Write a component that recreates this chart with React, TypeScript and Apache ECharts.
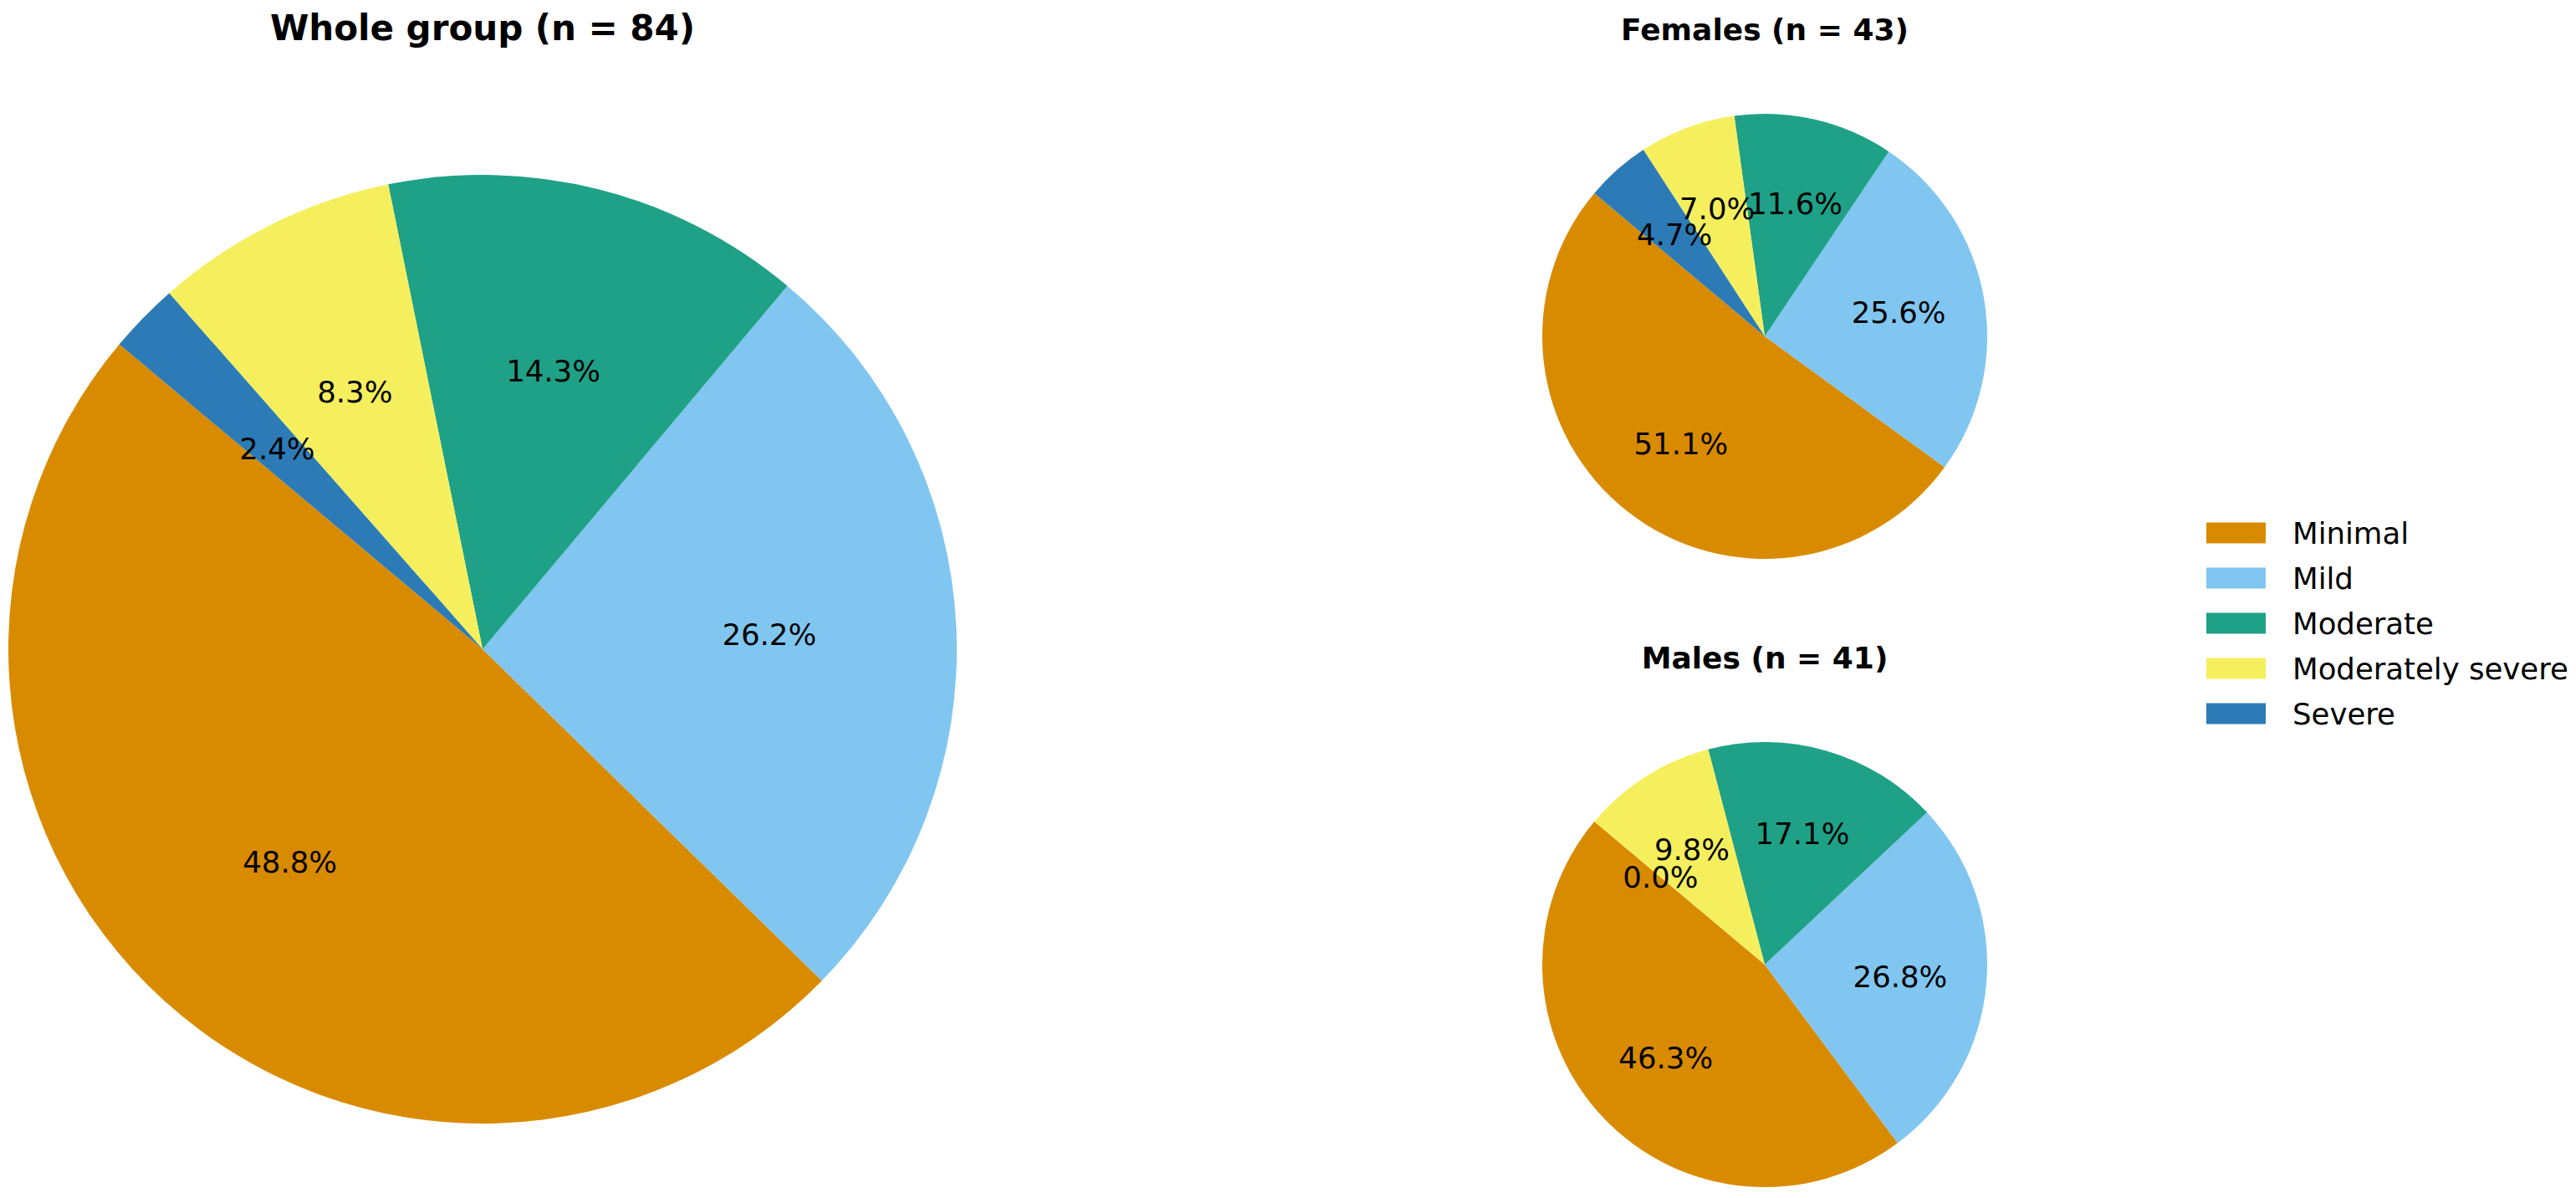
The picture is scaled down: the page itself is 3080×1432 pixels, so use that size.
import React, { useEffect, useRef } from "react";
import * as echarts from "echarts";

// ---- data ----
const categories = ["Minimal", "Mild", "Moderate", "Moderately severe", "Severe"];
const colors = ["#D98B00", "#80C6F1", "#1FA187", "#F5EF5E", "#2C7BB6"];
const wholeValues = [48.8, 26.2, 14.3, 8.3, 2.4];
const femaleValues = [51.1, 25.6, 11.6, 7.0, 4.7];
const maleValues = [46.3, 26.8, 17.1, 9.8, 0.0];
const titles = ["Whole group (n = 84)", "Females (n = 43)", "Males (n = 41)"];

const FONT = "'DejaVu Sans', 'Noto Sans', sans-serif";

export default function App() {
  const ref = useRef<HTMLDivElement>(null);

  useEffect(() => {
    document.body.style.margin = "0";
    const chart = echarts.init(ref.current as HTMLDivElement, null, { renderer: "svg" });

    const pies = [
      { values: wholeValues, cx: 577, cy: 776, r: 567, title: titles[0], ty: 33, ts: 42 },
      { values: femaleValues, cx: 2110, cy: 402, r: 266, title: titles[1], ty: 35, ts: 36 },
      { values: maleValues, cx: 2110, cy: 1153, r: 266, title: titles[2], ty: 786.5, ts: 36 },
    ];

    const series: any[] = [];
    pies.forEach((p) => {
      series.push({
        type: "pie",
        center: [p.cx, p.cy],
        radius: [0, p.r],
        startAngle: 140,
        clockwise: false,
        silent: true,
        avoidLabelOverlap: false,
        emphasis: { disabled: true },
        label: { show: false },
        labelLine: { show: false },
        itemStyle: { borderWidth: 0 },
        data: categories.map((name, i) => ({
          name,
          value: p.values[i],
          itemStyle: { color: colors[i], borderWidth: 0 },
        })),
      });
      // transparent overlays carrying the percentage labels at 0.6 * radius,
      // one overlay per category so that overlapping labels are all kept
      categories.forEach((_, k) => {
        series.push({
          type: "pie",
          center: [p.cx, p.cy],
          radius: [p.r * 0.2, p.r],
          startAngle: 140,
          clockwise: false,
          silent: true,
          avoidLabelOverlap: false,
          stillShowZeroSum: true,
          minShowLabelAngle: 0,
          emphasis: { disabled: true },
          labelLayout: { hideOverlap: false },
          labelLine: { show: false },
          legendHoverLink: false,
          label: {
            show: true,
            position: "inside",
            formatter: (q: any) => (q.dataIndex === k ? Number(q.value).toFixed(1) + "%" : ""),
            color: "#000",
            fontSize: 35.5,
            fontFamily: FONT,
            fontWeight: "normal",
          },
          itemStyle: { color: "rgba(0,0,0,0)", borderWidth: 0 },
          data: categories.map((name, i) => ({
            name,
            value: p.values[i],
            itemStyle: { color: "rgba(0,0,0,0)", borderWidth: 0 },
          })),
        });
      });
    });

    chart.setOption({
      animation: false,
      backgroundColor: "#ffffff",
      legend: {
        orient: "vertical",
        left: 2638,
        top: 619,
        padding: 0,
        itemWidth: 71,
        itemHeight: 25,
        itemGap: 18,
        icon: "rect",
        selectedMode: false,
        data: categories.map((name, i) => ({ name, itemStyle: { color: colors[i] } })),
        textStyle: {
          fontSize: 35.5,
          fontFamily: FONT,
          color: "#000",
          lineHeight: 36,
          padding: [0, 0, 0, 27],
        },
      },
      graphic: pies.map((p) => ({
        type: "text",
        x: p.cx,
        y: p.ty,
        silent: true,
        style: {
          text: p.title,
          fill: "#000",
          fontSize: p.ts,
          fontWeight: "bold",
          fontFamily: FONT,
          align: "center",
          verticalAlign: "middle",
        },
      })),
      series,
    });

    return () => {
      chart.dispose();
    };
  }, []);

  return <div ref={ref} style={{ width: 3080, height: 1432 }} />;
}
